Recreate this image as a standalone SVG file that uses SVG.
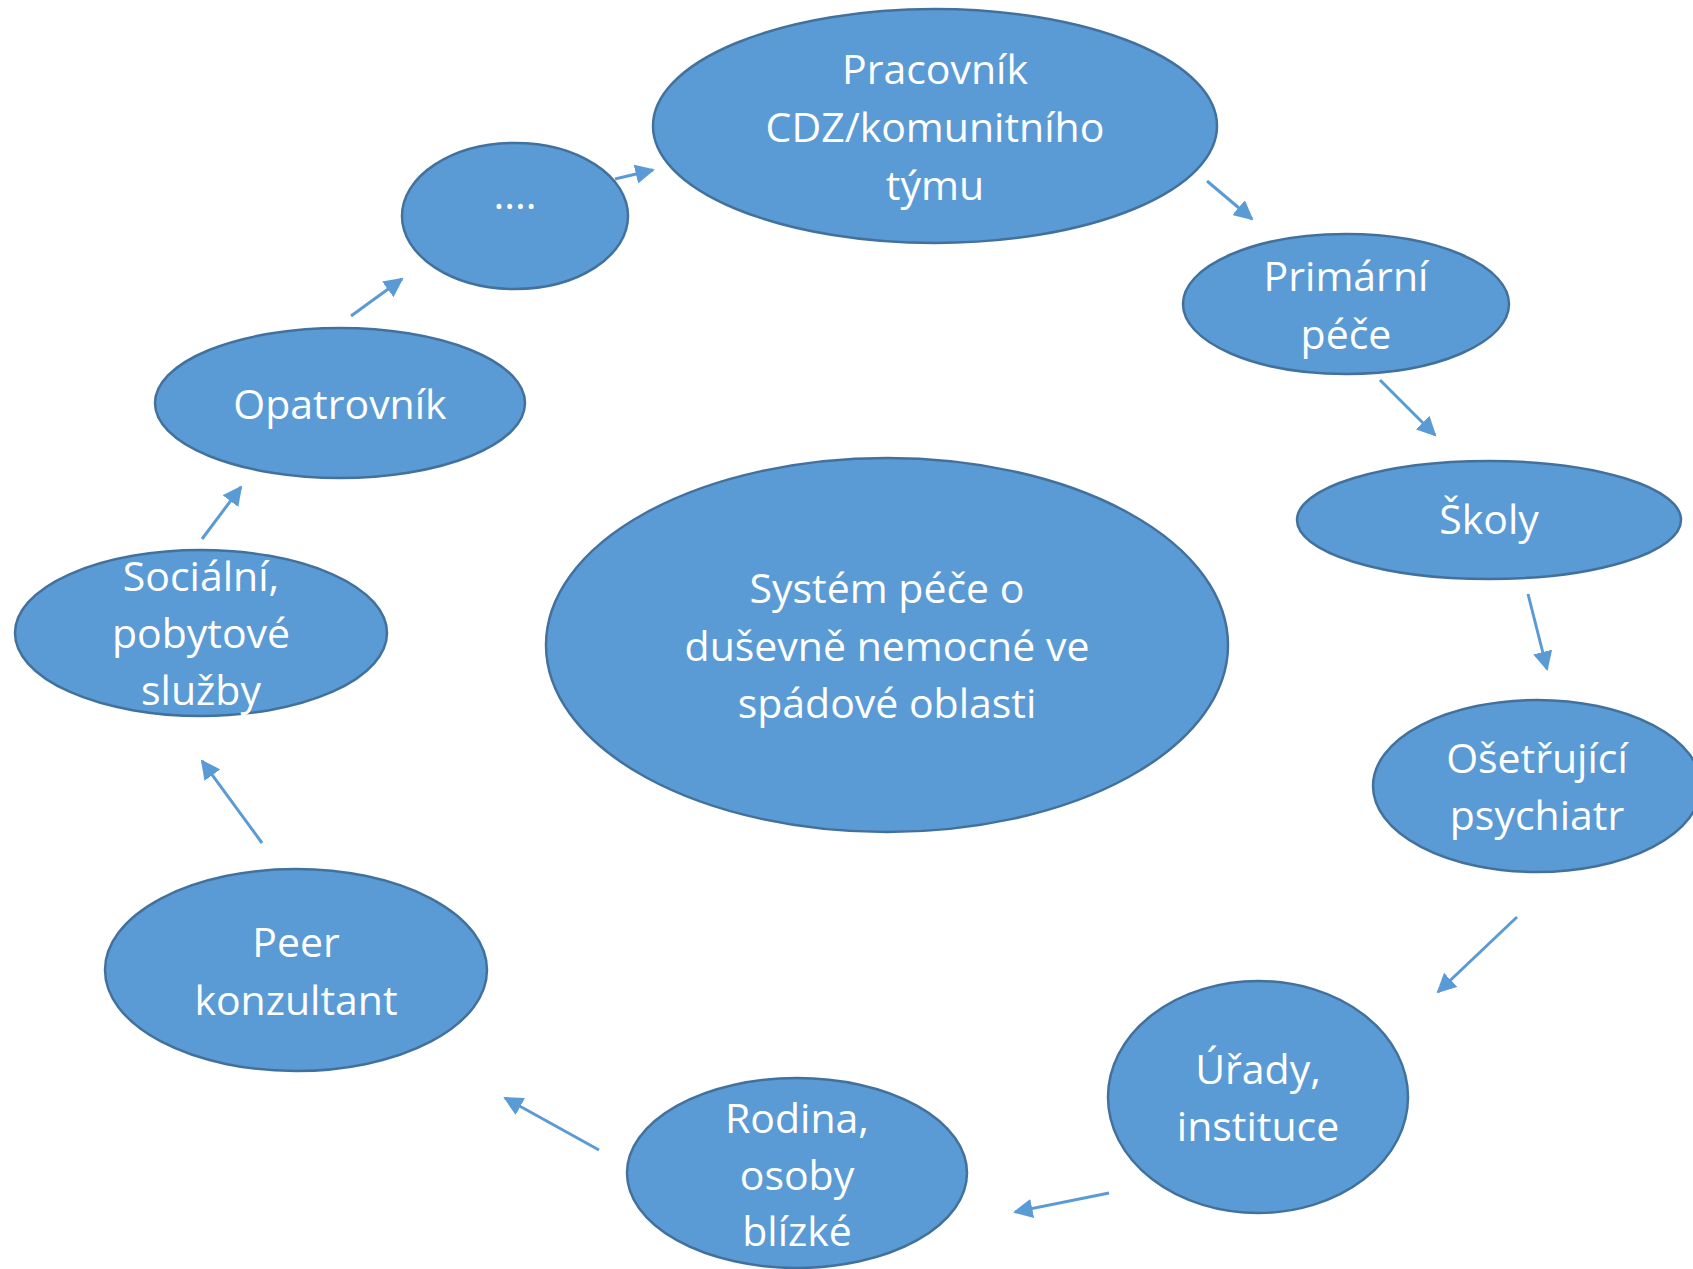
<svg xmlns="http://www.w3.org/2000/svg" width="1693" height="1269" viewBox="0 0 1693 1269">
<style>
.n ellipse{fill:#5B9BD5;stroke:#41719C;stroke-width:2.5}
.n text{fill:#fff;font-family:"Open Sans","Liberation Sans",sans-serif;font-size:41px;text-anchor:middle;dominant-baseline:central}
.c line{stroke:#5B9BD5;stroke-width:3;marker-end:url(#ah)}
</style>
<defs>
<marker id="ah" viewBox="0 0 10 10" refX="9" refY="5" markerWidth="6.5" markerHeight="6.5" markerUnits="strokeWidth" orient="auto">
<path d="M0,0 L10,5 L0,10 z" fill="#5B9BD5"/>
</marker>
</defs>
<rect width="1693" height="1269" fill="#fff"/>
<g id="connectors" class="c">
<line x1="615" y1="179" x2="653" y2="170"/>
<line x1="1207" y1="181" x2="1252" y2="219"/>
<line x1="1380" y1="380" x2="1435" y2="435"/>
<line x1="1528" y1="594" x2="1547" y2="669"/>
<line x1="1517" y1="917" x2="1438" y2="992"/>
<line x1="1109" y1="1193" x2="1015" y2="1212"/>
<line x1="599" y1="1150" x2="505" y2="1098"/>
<line x1="262" y1="843" x2="202" y2="761"/>
<line x1="202" y1="539" x2="241" y2="487"/>
<line x1="351" y1="316" x2="402" y2="279"/>
</g>
<g id="pracovnik" class="n"><ellipse cx="935" cy="126" rx="282" ry="117"/><text x="935" y="68">Pracovník</text><text x="935" y="126">CDZ/komunitního</text><text x="935" y="184">týmu</text></g>
<g id="dots" class="n"><ellipse cx="515" cy="216" rx="113" ry="73"/><text x="515" y="193">....</text></g>
<g id="primarni" class="n"><ellipse cx="1346" cy="304" rx="163" ry="70"/><text x="1346" y="275">Primární</text><text x="1346" y="333">péče</text></g>
<g id="opatrovnik" class="n"><ellipse cx="340" cy="403" rx="185" ry="75"/><text x="340" y="403">Opatrovník</text></g>
<g id="skoly" class="n"><ellipse cx="1489" cy="520" rx="192" ry="59"/><text x="1489" y="518">Školy</text></g>
<g id="system" class="n"><ellipse cx="887" cy="645" rx="341" ry="187"/><text x="887" y="587">Systém péče o</text><text x="887" y="645">duševně nemocné ve</text><text x="887" y="702">spádové oblasti</text></g>
<g id="socialni" class="n"><ellipse cx="201" cy="633" rx="186" ry="83"/><text x="201" y="575">Sociální,</text><text x="201" y="632">pobytové</text><text x="201" y="689">služby</text></g>
<g id="osetrujici" class="n"><ellipse cx="1537" cy="786" rx="164" ry="86"/><text x="1537" y="757">Ošetřující</text><text x="1537" y="814">psychiatr</text></g>
<g id="peer" class="n"><ellipse cx="296" cy="970" rx="191" ry="101"/><text x="296" y="941">Peer</text><text x="296" y="999">konzultant</text></g>
<g id="urady" class="n"><ellipse cx="1258" cy="1097" rx="150" ry="116"/><text x="1258" y="1068">Úřady,</text><text x="1258" y="1125">instituce</text></g>
<g id="rodina" class="n"><ellipse cx="797" cy="1173" rx="170" ry="95"/><text x="797" y="1117">Rodina,</text><text x="797" y="1174">osoby</text><text x="797" y="1230">blízké</text></g>
</svg>
